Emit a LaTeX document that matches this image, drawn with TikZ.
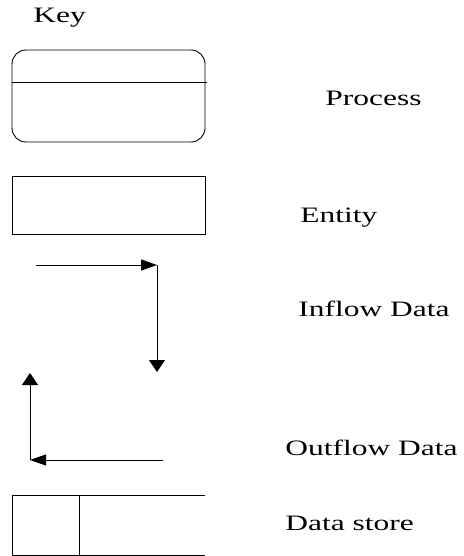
\documentclass[tikz,border=0pt]{standalone}
\usepackage{fontspec}
\setmainfont[FakeStretch=1.43]{Liberation Serif}
\usepackage{tikz}
\usetikzlibrary{positioning}
\usetikzlibrary{calc,arrows.meta}
\tikzset{
  keytext/.style={anchor=west, inner sep=0pt, font=\fontsize{22}{26}\selectfont},
  flowh/.style={-{Triangle[length=16pt,width=11pt]}},
  flowv/.style={-{Triangle[length=12pt,width=16pt]}}
}
\begin{document}
\begin{tikzpicture}[x=1pt,y=-1pt,line width=0.9pt]
		\useasboundingbox (0,0) rectangle (463,556);
		\node[keytext] (key) at (33,18) {Key};
		% process
		\node[draw, rounded corners=14pt, minimum width=193pt, minimum height=92pt, inner sep=0pt] (proc) at (108.5,96) {};
		\coordinate (procsplit) at (12,82);
		\draw (procsplit) -- ($(procsplit)+(195,0)$);
		\node[keytext] (proclabel) at (325,98) {Process};
		% entity
		\node[draw, minimum width=193pt, minimum height=58pt, inner sep=0pt] (ent) at (108.5,205) {};
		\node[keytext] (entlabel) at (300,218) {Entity};
		% inflow
		\coordinate (instart) at (36,265);
		\coordinate (incorner) at (157,265);
		\coordinate (inend) at (157,372);
		\draw[flowh] (instart) -- (incorner);
		\draw[flowv] (incorner) -- (inend);
		\node[keytext] (inlabel) at (298,309) {Inflow Data};
		% outflow
		\coordinate (outstart) at (163,460);
		\coordinate (outcorner) at (30,460);
		\coordinate (outend) at (30,373);
		\draw[flowh] (outstart) -- (outcorner);
		\draw[flowv] (outcorner) -- (outend);
		\node[keytext] (outlabel) at (285,448) {Outflow Data};
		% data store
		\coordinate (dstl) at (12,495);
		\coordinate (dsbl) at (12,555);
		\coordinate (dstr) at (205,495);
		\coordinate (dsbr) at (205,555);
		\draw (dstr) -- (dstl) -- (dsbl) -- (dsbr);
		\draw (79,495) -- (79,555);
		\node[keytext] (dslabel) at (285,523) {Data store};
\end{tikzpicture}
\end{document}
